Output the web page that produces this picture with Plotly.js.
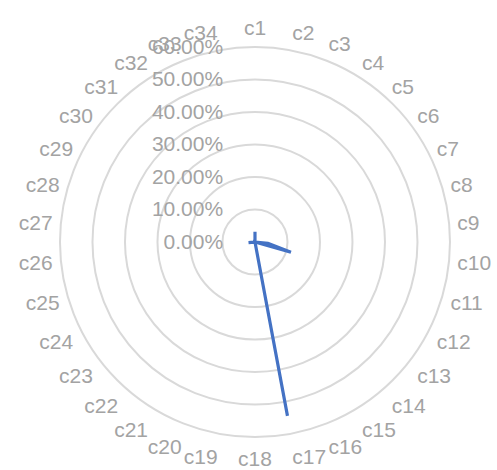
<!DOCTYPE html>
<html>
<head>
<meta charset="utf-8">
<script src="https://cdn.plot.ly/plotly-3.0.1.min.js"></script>
<style>
  html, body { margin: 0; padding: 0; background: #ffffff; }
  #chart { width: 497px; height: 470px; }
</style>
</head>
<body>
<div id="chart"></div>
<script>
// Categories around the radar
const categories = [
  'c1','c2','c3','c4','c5','c6','c7','c8','c9','c10',
  'c11','c12','c13','c14','c15','c16','c17','c18','c19','c20',
  'c21','c22','c23','c24','c25','c26','c27','c28','c29','c30',
  'c31','c32','c33','c34'
];

// Share for each category (fraction)
const shares = [
  0.032, 0, 0, 0, 0, 0, 0, 0, 0, 0.04,
  0.115, 0, 0, 0, 0, 0, 0.544, 0, 0, 0,
  0, 0, 0, 0, 0, 0.02, 0, 0, 0, 0,
  0, 0, 0, 0
];

// Radial ticks
const radialTicks = [0, 0.1, 0.2, 0.3, 0.4, 0.5, 0.6];

// Close the loop back to the first category
const theta = categories.concat([categories[0]]);
const r = shares.concat([shares[0]]);

const labelFont = { family: 'Liberation Sans, Arial, sans-serif', size: 21, color: '#a3a3a3' };
const ringColor = '#d9d9d9';

const trace = {
  type: 'scatterpolar',
  mode: 'lines',
  theta: theta,
  r: r,
  line: { color: '#4472c4', width: 3.2 },
  hoverinfo: 'skip',
  showlegend: false
};

const layout = {
  width: 497,
  height: 470,
  margin: { l: 0, r: 0, t: 0, b: 0 },
  paper_bgcolor: '#ffffff',
  plot_bgcolor: '#ffffff',
  showlegend: false,
  polar: {
    domain: { x: [0.1207, 0.9054], y: [0.068, 0.902] },
    bgcolor: '#ffffff',
    gridshape: 'circular',
    angularaxis: {
      type: 'category',
      categoryorder: 'array',
      categoryarray: categories,
      rotation: 90,
      direction: 'clockwise',
      showgrid: false,
      showline: true,
      linecolor: ringColor,
      linewidth: 2,
      ticks: 'outside',
      ticklen: 3,
      tickcolor: 'rgba(0,0,0,0)',
      tickfont: labelFont
    },
    radialaxis: {
      range: [0, 0.6],
      tickvals: radialTicks,
      tickformat: '.2%',
      angle: 90,
      tickangle: 90,
      side: 'counterclockwise',
      showline: false,
      ticks: 'outside',
      ticklen: 24,
      tickcolor: 'rgba(0,0,0,0)',
      showgrid: true,
      gridcolor: ringColor,
      gridwidth: 2,
      tickfont: labelFont
    }
  }
};

Plotly.newPlot('chart', [trace], layout, { displayModeBar: false, staticPlot: true });
</script>
</body>
</html>
